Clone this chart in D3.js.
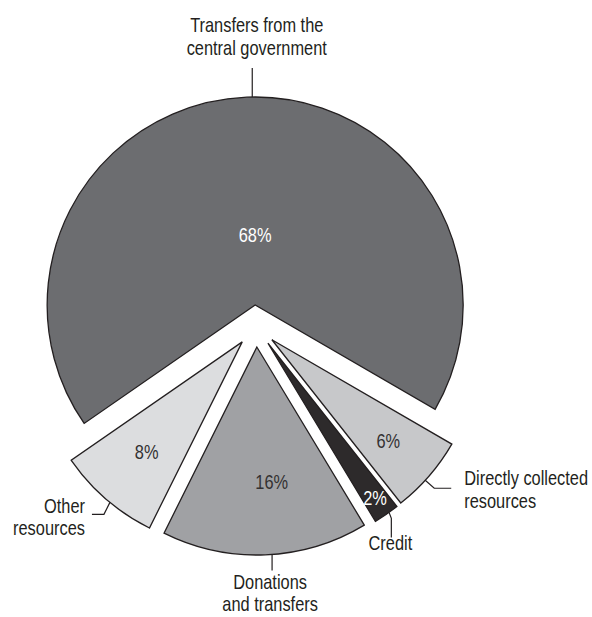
<!DOCTYPE html>
<html>
<head>
<meta charset="utf-8">
<script src="https://cdn.jsdelivr.net/npm/d3@7"></script>
<style>
  html, body { margin: 0; padding: 0; background: #fff; }
  svg { display: block; }
  text { font-family: "Liberation Sans", Arial, sans-serif; }
</style>
</head>
<body>
<svg id="chart" width="592" height="617"></svg>
<script>
// ---- data ----
const categories = [
  "Transfers from the central government",
  "Directly collected resources",
  "Credit",
  "Donations and transfers",
  "Other resources"
];
const values = [68, 6, 2, 16, 8];
const valueLabels = ["68%", "6%", "2%", "16%", "8%"];
const labelLines = [
  ["Transfers from the", "central government"],
  ["Directly collected", "resources"],
  ["Credit"],
  ["Donations", "and transfers"],
  ["Other", "resources"]
];

// ---- styles ----
const fills = ["#6c6d70", "#c7c8ca", "#2d2a2b", "#a0a1a4", "#dcdddf"];
const pctColors = ["#ffffff", "#333132", "#ffffff", "#333132", "#333132"];
const stroke = "#231f20";
const squeeze = 0.82; // narrow (condensed) type

const cx = 256, cy = 326, R = 208, explode = 21;
const deg = Math.PI / 180;
const start = -124.7 * deg;

const svg = d3.select("#chart");

const pie = d3.pie().sort(null).value(d => d).startAngle(start).endAngle(start + 2 * Math.PI);
const arcs = pie(values);
const arcGen = d3.arc().innerRadius(0).outerRadius(R);

const root = svg.append("g").attr("transform", `translate(${cx},${cy})`);

const dir = a => [Math.sin(a), -Math.cos(a)];

arcs.forEach(a => {
  const mid = (a.startAngle + a.endAngle) / 2;
  const [ux, uy] = dir(mid);
  a.mid = mid;
  a.ox = ux * explode;
  a.oy = uy * explode;
});

const slices = root.selectAll("g.slice").data(arcs).join("g")
  .attr("class", "slice")
  .attr("transform", d => `translate(${d.ox},${d.oy})`);

slices.append("path")
  .attr("d", arcGen)
  .attr("fill", (d, i) => fills[i])
  .attr("stroke", stroke)
  .attr("stroke-width", 1.3)
  .attr("stroke-linejoin", "miter");

function narrowText(parent, x, y, lines, anchor, color, lh) {
  const g = parent.append("g").attr("transform", `translate(${x},${y}) scale(${squeeze},1)`);
  const t = g.append("text")
    .attr("text-anchor", anchor)
    .attr("font-size", 20)
    .attr("fill", color);
  lines.forEach((ln, k) => {
    t.append("tspan").attr("x", 0).attr("y", k * lh).text(ln);
  });
  return t;
}

// percentage labels: radius and angle shift along each slice's mid angle
const pctRadius = [70, 154, 188, 136, 146];
const pctShift = [2.3, 0, 0, -4, 0];
slices.each(function (d, i) {
  const a = d.mid + pctShift[i] * deg;
  const [ux, uy] = dir(a);
  narrowText(d3.select(this), ux * pctRadius[i], uy * pctRadius[i] + 7,
    [valueLabels[i]], "middle", pctColors[i], 0);
});

// outside labels with leader lines
const outer = [
  { shift: 1.5,  leader: [[0, 0], [0, -29]],               anchor: "middle", tx: 4.5, fy: -36, lh: 23 },
  { shift: 1.6,  leader: [[0, 0], [9, 8], [26, 8]],        anchor: "start",  tx: 13,  fy: -3,  lh: 23 },
  { shift: -0.9, leader: [[0, 0], [2.3, 6], [2.3, 25]],    anchor: "middle", tx: -1,  fy: 13,  lh: 22 },
  { shift: -1.9, leader: [[0, 0], [0, 16]],                anchor: "middle", tx: -2,  fy: 19,  lh: 22 },
  { shift: -1.4, leader: [[0, 0], [-6, 12], [-18, 12]],    anchor: "end",    tx: -7,  fy: -1,  lh: 22 }
];

arcs.forEach((a, i) => {
  const cfg = outer[i];
  const [ux, uy] = dir(a.mid + cfg.shift * deg);
  const px = a.ox + ux * R, py = a.oy + uy * R;
  const pts = cfg.leader.map(p => [px + p[0], py + p[1]]);
  root.append("path")
    .attr("d", d3.line()(pts))
    .attr("fill", "none")
    .attr("stroke", stroke)
    .attr("stroke-width", 1.2);
  const end = pts[pts.length - 1];
  narrowText(root, end[0] + cfg.tx, end[1] + cfg.fy, labelLines[i], cfg.anchor, "#231f20", cfg.lh);
});
</script>
</body>
</html>
